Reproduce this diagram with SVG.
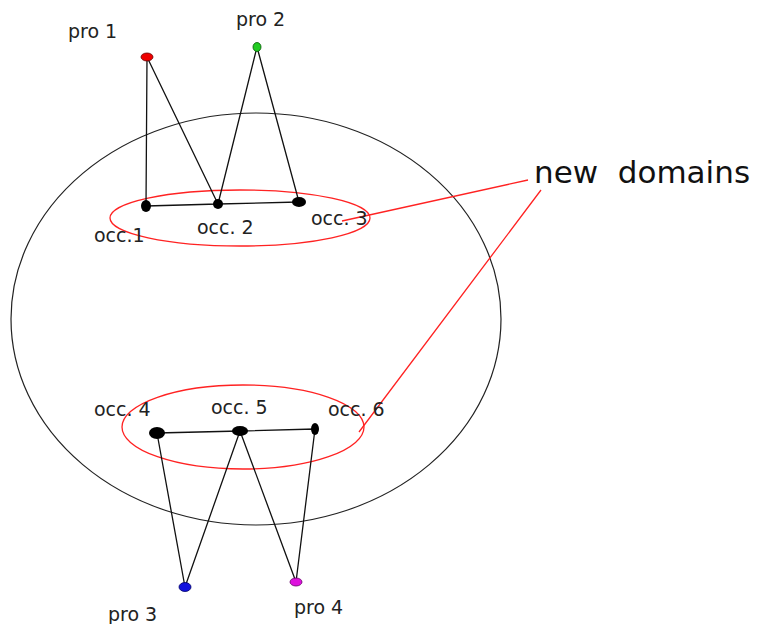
<svg xmlns="http://www.w3.org/2000/svg" width="760" height="624" viewBox="0 0 760 624">
<style>
.lbl{font-family:"DejaVu Sans",Verdana,sans-serif;font-size:19px;fill:#222}
.big{font-family:"DejaVu Sans",Verdana,sans-serif;font-size:31px;fill:#111}
.e{stroke:#111;stroke-width:1.3;fill:none}
.r{stroke:#f22;stroke-width:1.3;fill:none}
</style>
<rect width="760" height="624" fill="#fff"/>
<ellipse cx="256" cy="319" rx="245" ry="206" fill="none" stroke="#222" stroke-width="1.2"/>
<g id="domains">
<ellipse cx="240" cy="218" rx="130" ry="28" class="r"/>
<ellipse cx="243" cy="427" rx="121" ry="42" class="r"/>
<path class="r" d="M528 180 L342 221 M541 190 L359 432"/>
<text class="big" x="534" y="183" xml:space="preserve">new  domains</text>
</g>
<g id="connectors">
<path class="e" d="M147 57 L146 206 M147 57 L218 204 M257 47 L218 204 M257 47 L299 202 M146 206 L218 204 L299 202"/>
<path class="e" d="M157 433 L240 431 L315 429 M157 433 L185 587 M240 431 L185 587 M240 431 L296 582 M315 429 L296 582"/>
</g>
<g id="pro1"><ellipse cx="147" cy="57" rx="6" ry="4" fill="#e00" stroke="#600" stroke-width="0.8"/><text class="lbl" x="68" y="38">pro 1</text></g>
<g id="pro2"><ellipse cx="257" cy="47" rx="4" ry="4.5" fill="#2c2" stroke="#050" stroke-width="0.8"/><text class="lbl" x="236" y="26">pro 2</text></g>
<g id="occ1"><ellipse cx="146" cy="206" rx="5" ry="6" fill="#000"/><text class="lbl" x="94" y="242">occ.1</text></g>
<g id="occ2"><ellipse cx="218" cy="204" rx="5" ry="5" fill="#000"/><text class="lbl" x="197" y="234">occ. 2</text></g>
<g id="occ3"><ellipse cx="299" cy="202" rx="7" ry="5" fill="#000"/><text class="lbl" x="311" y="225">occ. 3</text></g>
<g id="occ4"><ellipse cx="157" cy="433" rx="8" ry="6" fill="#000"/><text class="lbl" x="94" y="416">occ. 4</text></g>
<g id="occ5"><ellipse cx="240" cy="431" rx="8" ry="5" fill="#000"/><text class="lbl" x="211" y="414">occ. 5</text></g>
<g id="occ6"><ellipse cx="315" cy="429" rx="4" ry="6" fill="#000"/><text class="lbl" x="328" y="416">occ. 6</text></g>
<g id="pro3"><ellipse cx="185" cy="587" rx="6" ry="4.5" fill="#11d" stroke="#006" stroke-width="0.8"/><text class="lbl" x="108" y="621">pro 3</text></g>
<g id="pro4"><ellipse cx="296" cy="582" rx="6" ry="4" fill="#d1d" stroke="#606" stroke-width="0.8"/><text class="lbl" x="294" y="614">pro 4</text></g>
</svg>
